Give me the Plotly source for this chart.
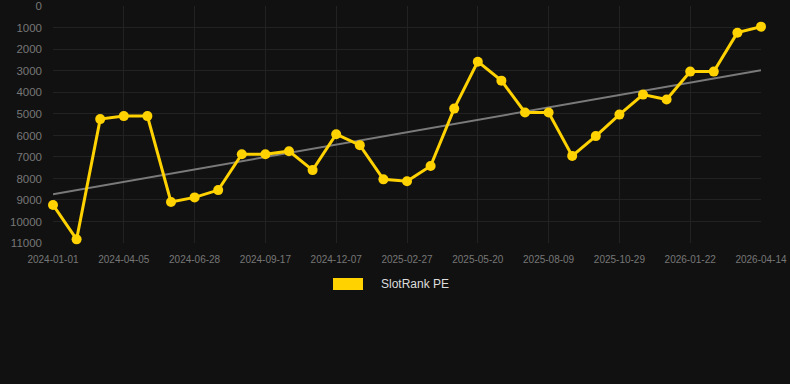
import numpy as np
import plotly.graph_objects as go

dates = [
    "2024-01-01", "2024-02-05", "2024-03-05", "2024-04-05", "2024-05-05", "2024-06-01",
    "2024-06-28", "2024-07-25", "2024-08-21", "2024-09-17", "2024-10-14", "2024-11-10",
    "2024-12-07", "2025-01-03", "2025-01-31", "2025-02-27", "2025-03-26", "2025-04-23",
    "2025-05-20", "2025-06-16", "2025-07-13", "2025-08-09", "2025-09-05", "2025-10-02",
    "2025-10-29", "2025-11-25", "2025-12-22", "2026-01-22", "2026-02-18", "2026-03-17",
    "2026-04-14",
]
rank = [
    9230, 10830, 5240, 5100, 5100, 9090, 8880, 8540, 6870, 6870, 6730, 7610,
    5940, 6450, 8040, 8130, 7420, 4750, 2570, 3450, 4930, 4930, 6950, 6030,
    5030, 4100, 4330, 3030, 3030, 1220, 940,
]
tick_labels = dates[::3]
y_ticks = [0, 1000, 2000, 3000, 4000, 5000, 6000, 7000, 8000, 9000, 10000, 11000]
y_tick_text = [str(v) for v in y_ticks]
series_name = "SlotRank PE"

idx = np.arange(len(rank))
slope, intercept = np.polyfit(idx, rank, 1)
trend = slope * idx + intercept

fig = go.Figure()
fig.add_trace(go.Scatter(
    x=dates, y=trend, mode="lines",
    line=dict(color="#7a7a7a", width=2),
    hoverinfo="skip", showlegend=False, cliponaxis=False,
))
fig.add_trace(go.Scatter(
    x=dates, y=rank, mode="lines+markers", name=series_name,
    line=dict(color="#FFD200", width=3),
    marker=dict(color="#FFD200", size=10),
    showlegend=False, cliponaxis=False,
))

fig.add_shape(type="rect", xref="paper", yref="paper",
              x0=(333 - 53) / 708, x1=(363 - 53) / 708,
              y0=(384 - 141 - 290) / 237, y1=(384 - 141 - 278) / 237,
              fillcolor="#FFD200", line=dict(width=0))
fig.add_annotation(xref="paper", yref="paper",
                   x=(379 - 53) / 708, y=(384 - 141 - 284) / 237,
                   xanchor="left", yanchor="middle", showarrow=False,
                   text=series_name, font=dict(color="#dddddd", size=12,
                                               family="Liberation Sans, Arial, sans-serif"))

fig.update_layout(
    width=790, height=384,
    margin=dict(l=53, r=29, t=6, b=141),
    paper_bgcolor="#111111", plot_bgcolor="#111111",
    font=dict(family="Liberation Sans, Arial, sans-serif", color="#777777"),
    showlegend=False,
    xaxis=dict(
        type="category", range=[0, len(dates) - 1],
        tickmode="array", tickvals=tick_labels, ticktext=tick_labels,
        showgrid=True, gridcolor="#222222", gridwidth=1,
        zeroline=False, showline=False, ticks="",
        tickfont=dict(size=10, color="#777777"),
        ticklabelstandoff=9, automargin=False,
    ),
    yaxis=dict(
        range=[11000, -20], tickmode="array", tickvals=y_ticks, ticktext=y_tick_text,
        showgrid=True, gridcolor="#222222", gridwidth=1,
        zeroline=False, showline=False, ticks="",
        tickfont=dict(size=11.5, color="#777777"),
        ticklabelstandoff=10, ticklabeloverflow="allow", automargin=False,
    ),
)

fig.write_html("out.html")
